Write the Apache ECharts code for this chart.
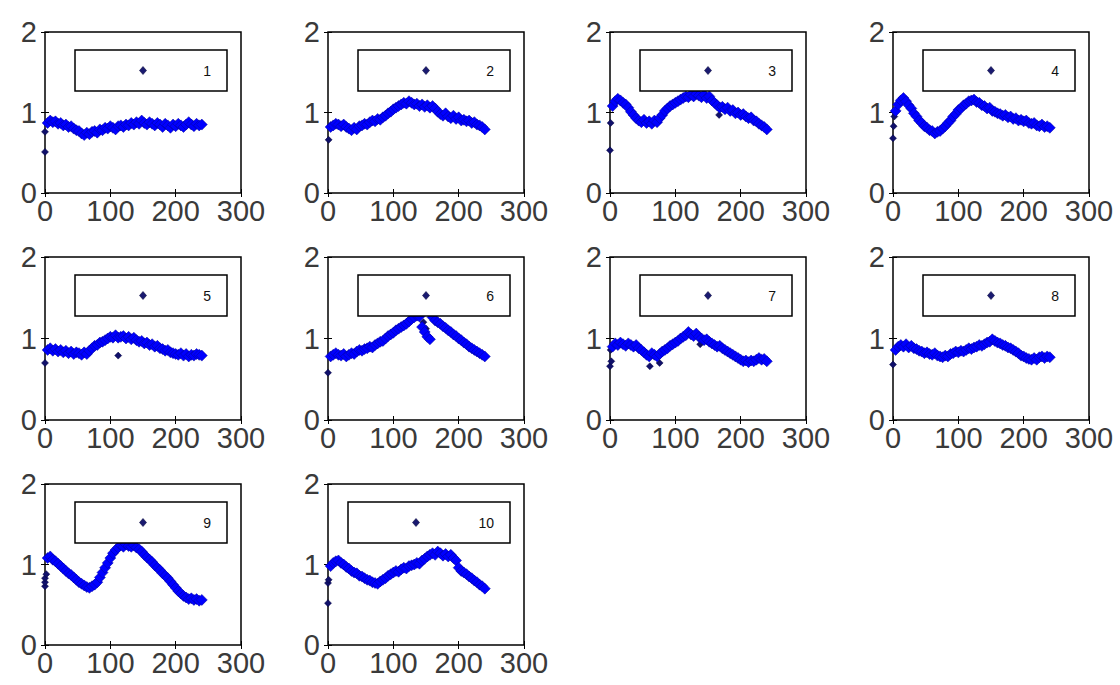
<!DOCTYPE html>
<html>
<head>
<meta charset="utf-8">
<script src="https://cdn.jsdelivr.net/npm/echarts@6/dist/echarts.min.js"></script>
<style>
  html, body { margin: 0; padding: 0; background: #fff; }
  #chart { width: 1120px; height: 685px; }
</style>
</head>
<body>
<div id="chart"></div>
<script>
// Sample positions shared by every run (x axis)
const xs = [4,8,12,16,20,24,28,32,36,40,44,48,52,56,60,64,68,72,76,80,
            84,88,92,96,100,104,108,112,116,120,124,128,132,136,140,144,148,152,156,160,
            164,168,172,176,180,184,188,192,196,200,204,208,212,216,220,224,228,232,236,240];

// Axis ticks
const xTicks = [0, 100, 200, 300];
const yTicks = [0, 1, 2];

// Run labels (legend text)
const runLabels = ['1','2','3','4','5','6','7','8','9','10'];

// Measured values of each run, one per sample position
const s1 = [0.87,0.90,0.88,0.89,0.86,0.87,0.84,0.85,0.82,0.83,
            0.80,0.78,0.77,0.74,0.72,0.75,0.73,0.76,0.77,0.75,
            0.79,0.78,0.81,0.80,0.83,0.81,0.79,0.83,0.84,0.82,
            0.85,0.84,0.87,0.85,0.88,0.86,0.90,0.87,0.85,0.88,
            0.86,0.84,0.87,0.85,0.82,0.86,0.84,0.81,0.85,0.83,
            0.86,0.84,0.82,0.85,0.88,0.85,0.83,0.86,0.84,0.85];
const s2 = [0.82,0.84,0.86,0.85,0.83,0.85,0.82,0.80,0.78,0.81,
            0.79,0.83,0.84,0.86,0.85,0.88,0.90,0.89,0.92,0.91,
            0.94,0.96,0.99,1.01,1.04,1.06,1.08,1.10,1.12,1.11,
            1.14,1.12,1.10,1.11,1.08,1.10,1.07,1.09,1.06,1.08,
            1.05,1.01,0.98,0.96,0.99,0.95,0.93,0.96,0.92,0.94,
            0.90,0.91,0.89,0.90,0.87,0.88,0.85,0.84,0.82,0.79];
const s3 = [1.08,1.14,1.17,1.15,1.12,1.10,1.06,1.01,0.97,0.93,
            0.90,0.88,0.91,0.87,0.89,0.86,0.90,0.88,0.93,0.97,
            1.02,1.05,1.08,1.10,1.12,1.14,1.16,1.18,1.20,1.19,
            1.22,1.20,1.23,1.21,1.19,1.22,1.18,1.20,1.15,1.12,
            1.09,1.06,1.07,1.04,1.06,1.02,1.03,0.99,1.00,0.97,
            0.98,0.95,0.93,0.94,0.90,0.89,0.86,0.84,0.82,0.79];
const s4 = [1.02,1.10,1.15,1.18,1.14,1.09,1.05,0.99,0.95,0.90,
            0.87,0.83,0.81,0.78,0.77,0.74,0.76,0.77,0.80,0.83,
            0.87,0.90,0.95,0.98,1.03,1.05,1.09,1.11,1.14,1.15,
            1.16,1.13,1.12,1.09,1.08,1.05,1.06,1.02,1.01,0.99,
            0.98,0.96,0.97,0.94,0.95,0.92,0.93,0.90,0.91,0.89,
            0.90,0.87,0.86,0.87,0.84,0.83,0.85,0.82,0.83,0.81];
const s5 = [0.86,0.88,0.85,0.87,0.84,0.86,0.83,0.85,0.82,0.84,
            0.81,0.83,0.82,0.80,0.83,0.81,0.85,0.88,0.91,0.92,
            0.95,0.96,0.98,1.00,1.02,1.01,1.04,1.01,1.02,1.03,
            1.00,1.02,0.99,1.01,0.98,0.96,0.97,0.94,0.95,0.92,
            0.93,0.90,0.91,0.88,0.87,0.85,0.86,0.83,0.82,0.81,
            0.80,0.82,0.79,0.81,0.78,0.80,0.79,0.81,0.80,0.79];
const s6 = [0.78,0.80,0.82,0.80,0.79,0.81,0.78,0.80,0.82,0.81,
            0.84,0.86,0.85,0.87,0.88,0.90,0.89,0.92,0.94,0.96,
            0.97,1.00,1.03,1.05,1.07,1.10,1.12,1.14,1.16,1.18,
            1.21,1.24,1.26,1.28,1.27,1.14,1.08,1.02,0.99,1.26,
            1.22,1.20,1.18,1.15,1.13,1.10,1.08,1.05,1.03,1.00,
            0.98,0.95,0.93,0.90,0.88,0.86,0.84,0.82,0.80,0.78];
const s7 = [0.90,0.94,0.92,0.95,0.93,0.91,0.94,0.92,0.90,0.92,
            0.88,0.86,0.83,0.80,0.78,0.82,0.80,0.78,0.81,0.84,
            0.86,0.88,0.91,0.93,0.95,0.97,1.00,1.02,1.04,1.08,
            1.05,1.03,1.06,1.02,1.00,0.98,0.99,0.96,0.94,0.92,
            0.90,0.91,0.88,0.86,0.84,0.82,0.80,0.78,0.76,0.74,
            0.72,0.73,0.71,0.73,0.72,0.74,0.76,0.74,0.75,0.72];
const s8 = [0.86,0.90,0.92,0.90,0.93,0.89,0.91,0.88,0.87,0.85,
            0.84,0.82,0.83,0.81,0.80,0.82,0.79,0.78,0.77,0.79,
            0.78,0.81,0.82,0.84,0.83,0.85,0.84,0.86,0.88,0.87,
            0.89,0.90,0.92,0.91,0.93,0.95,0.96,0.99,0.97,0.95,
            0.94,0.92,0.91,0.89,0.88,0.86,0.84,0.82,0.79,0.78,
            0.76,0.75,0.74,0.76,0.74,0.77,0.78,0.76,0.78,0.77];
const s9 = [1.08,1.10,1.06,1.04,1.01,0.98,0.95,0.92,0.89,0.87,
            0.84,0.81,0.78,0.76,0.74,0.72,0.71,0.73,0.75,0.78,
            0.84,0.90,0.96,1.02,1.08,1.14,1.18,1.21,1.24,1.22,
            1.25,1.23,1.22,1.24,1.21,1.19,1.16,1.12,1.09,1.06,
            1.03,0.99,0.96,0.93,0.89,0.86,0.83,0.79,0.75,0.71,
            0.67,0.64,0.61,0.59,0.57,0.58,0.56,0.57,0.55,0.56];
const s10 = [0.98,1.02,1.04,1.05,1.02,1.00,0.97,0.95,0.92,0.90,
             0.89,0.86,0.85,0.83,0.81,0.80,0.78,0.77,0.76,0.79,
             0.81,0.83,0.86,0.88,0.90,0.92,0.91,0.94,0.96,0.95,
             0.98,0.99,1.00,1.02,1.01,1.05,1.07,1.10,1.12,1.14,
             1.12,1.16,1.14,1.11,1.13,1.10,1.12,1.08,1.05,0.96,
             0.92,0.90,0.88,0.85,0.83,0.80,0.78,0.75,0.73,0.70];

// Start-up readings and stray readings of each run, as [x, y]
const e1 = [[0,0.51],[0,0.76]];
const e2 = [[1,0.66]];
const e3 = [[0,0.53],[1,0.87],[167,0.97]];
const e4 = [[0,0.68],[1,0.83],[2,0.95]];
const e5 = [[0,0.70],[112,0.79]];
const e6 = [[0,0.58],[146,1.20],[150,1.12]];
const e7 = [[0,0.66],[2,0.72],[1,0.86],[61,0.66],[76,0.70],[138,0.93]];
const e8 = [[0,0.68]];
const e9 = [[0,0.73],[0,0.78],[0,0.83],[2,0.88]];
const e10 = [[0,0.52],[0,0.77],[1,0.81]];

const runs = [s1,s2,s3,s4,s5,s6,s7,s8,s9,s10];
const extras = [e1,e2,e3,e4,e5,e6,e7,e8,e9,e10];

// Subplot layout (3 rows x 4 columns)
const COL_LEFT = [45, 328, 610, 893];
const ROW_TOP = [32, 257, 484];
const ROW_H = [161, 163, 161];
const PLOT_W = 196;

const FONT = '"Liberation Sans", Arial, Helvetica, sans-serif';

const grids = [], xAxes = [], yAxes = [], series = [], graphics = [];
const n = runs.length;

runs.forEach((vals, i) => {
  const col = i % 4, row = Math.floor(i / 4);
  const left = COL_LEFT[col], top = ROW_TOP[row], h = ROW_H[row];

  grids.push({ left: left, top: top, width: PLOT_W, height: h, show: true,
               borderColor: '#000', borderWidth: 1.5, backgroundColor: '#fff' });

  const tick = { inside: true, length: 4, lineStyle: { color: '#000', width: 1 } };
  const baseX = { gridIndex: i, type: 'value', min: xTicks[0], max: xTicks[xTicks.length - 1], interval: 100,
                  splitLine: { show: false }, axisLine: { show: false }, axisTick: tick };
  const baseY = { gridIndex: i, type: 'value', min: yTicks[0], max: yTicks[yTicks.length - 1], interval: 1,
                  splitLine: { show: false }, axisLine: { show: false }, axisTick: tick };

  xAxes[i] = Object.assign({}, baseX, { position: 'bottom',
    axisLabel: { fontSize: 29, fontFamily: FONT, color: '#3a3a3a', margin: 3 } });
  yAxes[i] = Object.assign({}, baseY, { position: 'left',
    axisLabel: { fontSize: 29, fontFamily: FONT, color: '#3a3a3a', margin: 8 } });
  // mirrored tick marks on the top and right edges of the box
  xAxes[n + i] = Object.assign({}, baseX, { position: 'top', axisLabel: { show: false } });
  yAxes[n + i] = Object.assign({}, baseY, { position: 'right', axisLabel: { show: false } });

  // stray readings are isolated and drawn a bit smaller than the dense band
  const stray = extras[i].map(p => ({ value: p, symbolSize: 7,
                                      itemStyle: { color: '#10106a', borderColor: '#000040' } }));
  const pts = stray.concat(xs.map((x, k) => [x, vals[k]]));
  series.push({
    name: runLabels[i], type: 'scatter', xAxisIndex: i, yAxisIndex: i,
    symbol: 'diamond', symbolSize: 11, z: 2,
    itemStyle: { color: '#0000ff', borderColor: '#00009a', borderWidth: 0.5, opacity: 1 },
    data: pts
  });

  // legend box in the upper part of each subplot
  const lOff = runLabels[i].length > 1 ? 20 : 30;
  const bx = left + lOff, by = top + 18, bw = PLOT_W - lOff - 14, bh = 41;
  const cx = bx + 68, cy = by + bh / 2;
  graphics.push({ type: 'rect', z: 100, shape: { x: bx, y: by, width: bw, height: bh },
                  style: { fill: '#fff', stroke: '#000', lineWidth: 1.5 } });
  graphics.push({ type: 'polygon', z: 101,
                  shape: { points: [[cx, cy - 4], [cx + 3.5, cy], [cx, cy + 4], [cx - 3.5, cy]] },
                  style: { fill: '#1a1a70', stroke: '#0a0a40', lineWidth: 0.6 } });
  graphics.push({ type: 'text', z: 101, x: bx + bw - 16, y: cy,
                  style: { text: runLabels[i], font: '14px ' + FONT, fill: '#111',
                           align: 'right', verticalAlign: 'middle',
                           textAlign: 'right', textVerticalAlign: 'middle' } });
});

const chart = echarts.init(document.getElementById('chart'), null, { renderer: 'svg' });
chart.setOption({
  animation: false,
  backgroundColor: '#fff',
  grid: grids,
  xAxis: xAxes,
  yAxis: yAxes,
  series: series,
  graphic: { elements: graphics }
});
</script>
</body>
</html>
